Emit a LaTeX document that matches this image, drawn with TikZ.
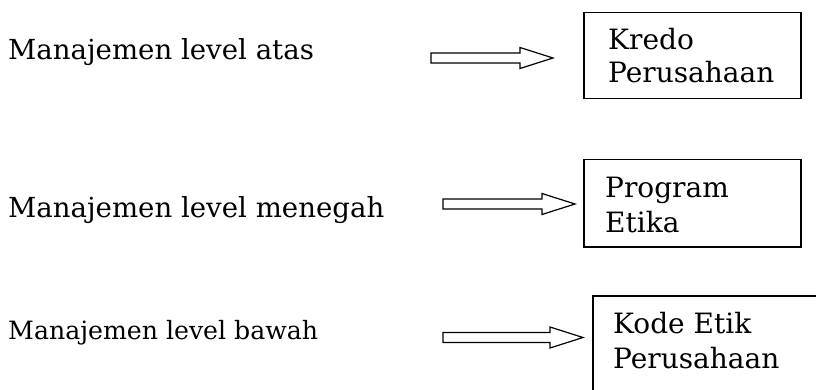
\documentclass[tikz,border=0pt]{standalone}
\usepackage{fontspec}
\setmainfont{DejaVu Serif}
\usetikzlibrary{calc}
\tikzset{
  lbl/.style={anchor=base west, inner sep=0pt, font=\fontsize{27.6}{33}\selectfont},
  lblsmall/.style={anchor=base west, inner sep=0pt, font=\fontsize{25.2}{30}\selectfont},
  boxtext/.style={anchor=base west, inner sep=0pt, font=\fontsize{28}{34}\selectfont},
  box/.style={draw, line width=1.5pt, rectangle, anchor=north west, inner sep=0pt},
  arrowline/.style={draw, line width=1.2pt, line join=miter, fill=white},
}
\newcommand\fatarrow[2]{%
  \draw[arrowline] ($(#1)+(0,-5)$) -- ($(#2)+(-33,-5)$) -- ($(#2)+(-33,-10.5)$) -- (#2)
    -- ($(#2)+(-33,10.5)$) -- ($(#2)+(-33,5)$) -- ($(#1)+(0,5)$) -- cycle;}
\begin{document}
\begin{tikzpicture}[x=1pt, y=-1pt]
\clip (0,0) rectangle (816,390);
\useasboundingbox (0,0) rectangle (816,390);
\fill[white] (0,0) rectangle (816,390);

% left labels
\node[lbl] (l1) at (8,60) {Manajemen level atas};
\node[lbl] (l2) at (8,217) {Manajemen level menegah};
\node[lblsmall] (l3) at (8,339) {Manajemen level bawah};

% boxes
\node[box, minimum width=217pt, minimum height=86pt] (b1) at (583,12) {};
\node[box, minimum width=217pt, minimum height=87pt] (b2) at (583,159) {};
\node[box, minimum width=240pt, minimum height=110pt] (b3) at (592,295) {};

% box texts
\node[boxtext] (t1a) at (608,50) {Kredo};
\node[boxtext] (t1b) at (608,83) {Perusahaan};
\node[boxtext] (t2a) at (605,197) {Program};
\node[boxtext] (t2b) at (605,232) {Etika};
\node[boxtext] (t3a) at (613,333) {Kode Etik};
\node[boxtext] (t3b) at (613,368) {Perusahaan};

% arrows
\coordinate (a1s) at (431,58);
\coordinate (a1e) at (553,58);
\coordinate (a2s) at (443,204);
\coordinate (a2e) at (575,204);
\coordinate (a3s) at (443,337.5);
\coordinate (a3e) at (583,337.5);
\fatarrow{a1s}{a1e}
\fatarrow{a2s}{a2e}
\fatarrow{a3s}{a3e}
\end{tikzpicture}
\end{document}
